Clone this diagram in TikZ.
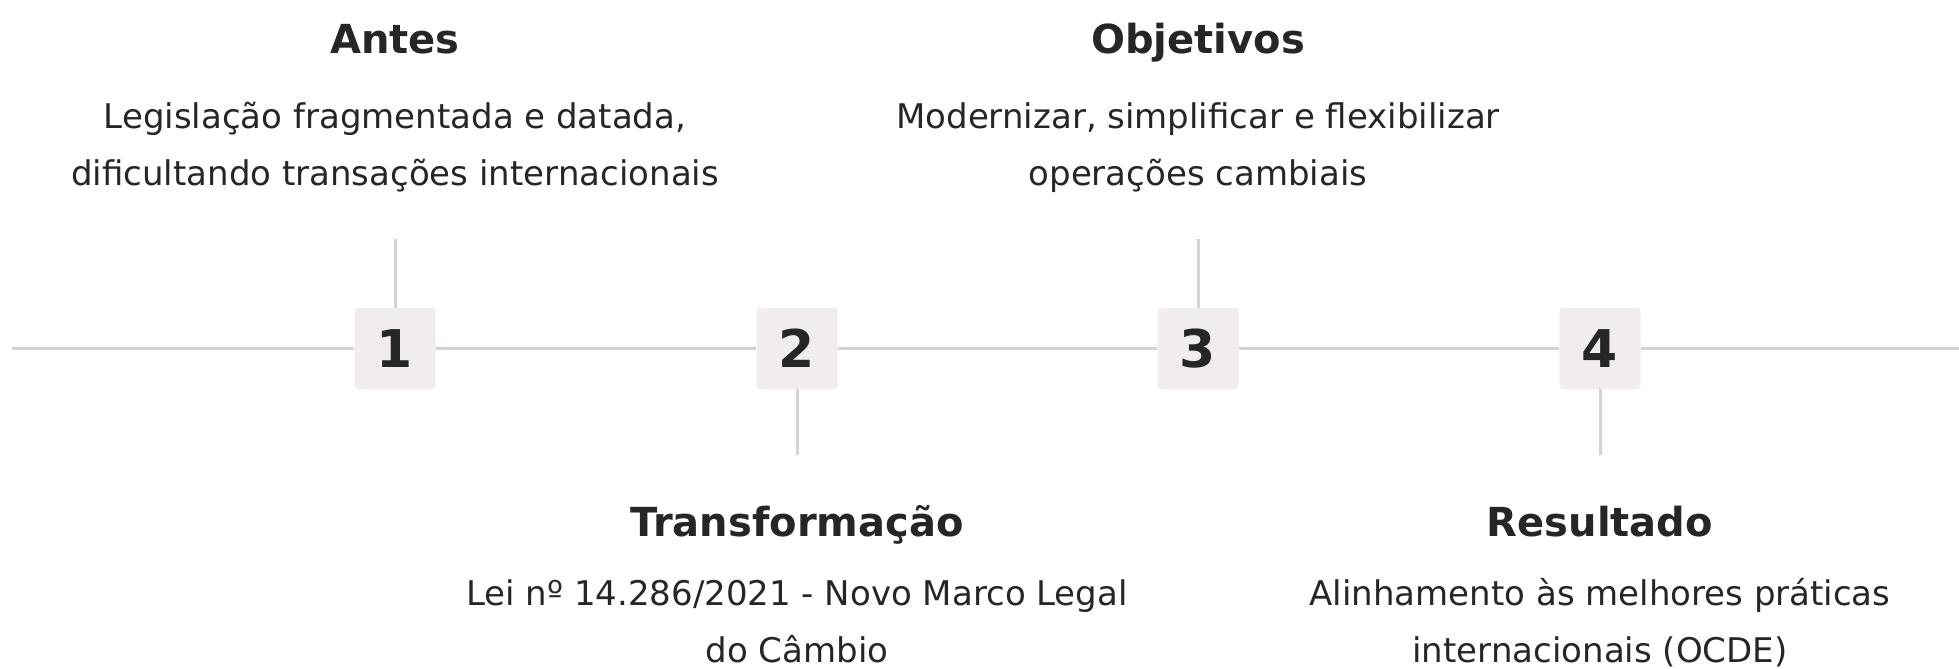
\documentclass[tikz,border=0pt]{standalone}
\usepackage{fontspec}
\setmainfont{DejaVu Sans}
\usepackage{tikz}
\definecolor{lineclr}{HTML}{D6D2D2}
\definecolor{boxclr}{HTML}{F0EDEC}
\definecolor{txtclr}{HTML}{262626}

\begin{document}
\begin{tikzpicture}[x=1pt, y=-1pt,
  stepnum/.style={fill=boxclr, rounded corners=3pt, minimum width=81pt, minimum height=81pt, inner sep=0pt, font=\fontsize{52}{52}\selectfont\bfseries, text=txtclr},
  ttl/.style={anchor=base, inner sep=0pt, font=\fontsize{40}{48}\selectfont\bfseries, text=txtclr},
  desc/.style={anchor=base, inner sep=0pt, align=center, font=\fontsize{34}{57}\selectfont, text=txtclr},
  tline/.style={draw=lineclr, line width=3.5pt},
  stem/.style={draw=lineclr, line width=3pt}]
\useasboundingbox (0,0) rectangle (1959,669);
% numbered steps
\node[stepnum] (n1) at (395,348.5) {1};
\node[stepnum] (n2) at (797,348.5) {2};
\node[stepnum] (n3) at (1198,348.5) {3};
\node[stepnum] (n4) at (1600,348.5) {4};
\coordinate (lstart) at (12,348.5);
\coordinate (lend) at (1959,348.5);
\draw[tline] (lstart) -- (n1) -- (n2) -- (n3) -- (n4) -- (lend);
% stems
\coordinate (s1) at (395,239);
\coordinate (s2) at (797,455);
\coordinate (s3) at (1198,239);
\coordinate (s4) at (1600,455);
\draw[stem] (n1) -- (s1);
\draw[stem] (n2) -- (s2);
\draw[stem] (n3) -- (s3);
\draw[stem] (n4) -- (s4);
% texts above (base = last line)
\node[ttl] (antes) at (395,54) {Antes};
\node[desc] (antesd) at (395,185) {Legislação fragmentada e datada,\\dificultando transações internacionais};
\node[ttl] (obj) at (1198,54) {Objetivos};
\node[desc] (objd) at (1198,185) {Modernizar, simplificar e flexibilizar\\operações cambiais};
% texts below
\node[ttl] (transf) at (797,536) {Transformação};
\node[desc] (transfd) at (797,662) {Lei nº 14.286/2021 - Novo Marco Legal\\do Câmbio};
\node[ttl] (res) at (1600,536) {Resultado};
\node[desc] (resd) at (1600,662) {Alinhamento às melhores práticas\\internacionais (OCDE)};
\end{tikzpicture}
\end{document}
